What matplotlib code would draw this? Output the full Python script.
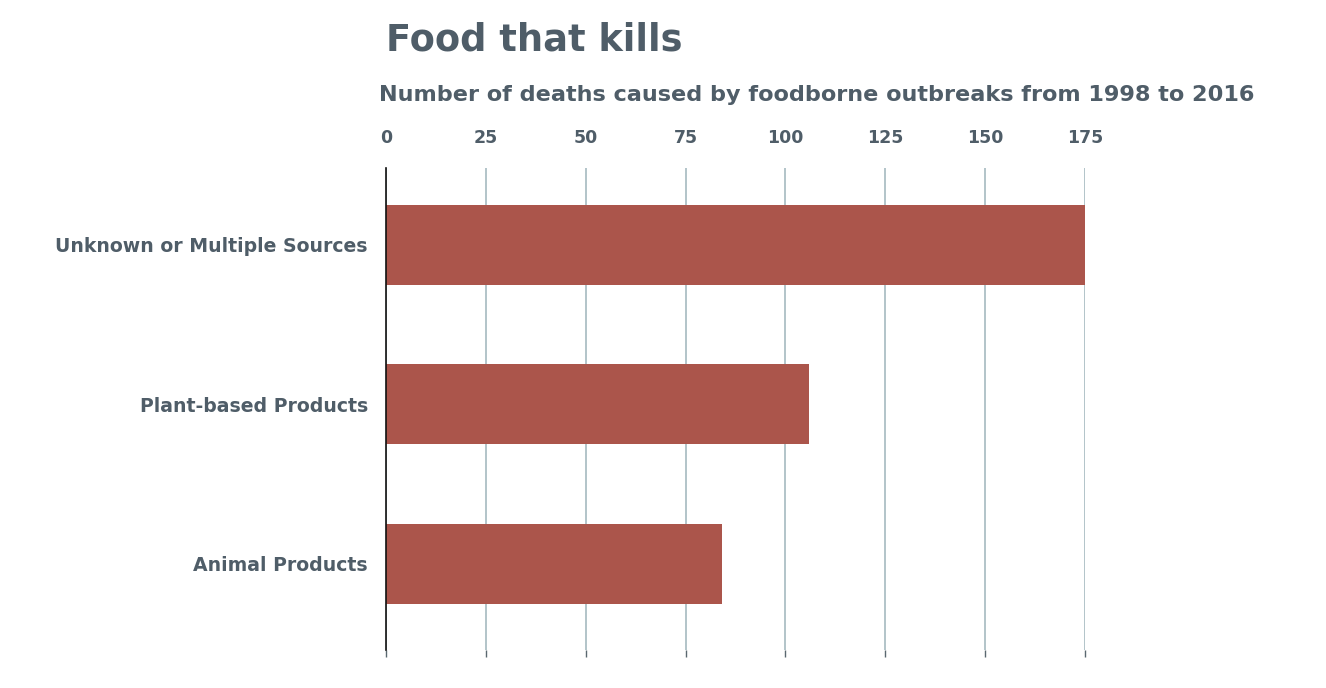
import matplotlib
matplotlib.use("Agg")
import matplotlib.pyplot as plt

categories = ["Unknown or Multiple Sources", "Plant-based Products", "Animal Products"]
deaths = [175, 106, 84]
ticks = [0, 25, 50, 75, 100, 125, 150, 175]

TEXT = "#4f5d68"
BAR = "#ab554b"
GRID = "#a6bac0"

fig = plt.figure(figsize=(13.26, 6.88), dpi=100)
ax = fig.add_axes([386 / 1326, 1 - 650 / 688, (1085 - 386) / 1326, (650 - 168) / 688])

ypos = list(range(len(categories)))
ax.barh(ypos, deaths, height=0.5, color=BAR, zorder=3)
ax.set_ylim(2.54, -0.48)
ax.set_xlim(0, 175)

ax.set_yticks(ypos)
ax.set_yticklabels(categories, fontsize=13.6, fontweight="bold", color=TEXT)
ax.tick_params(axis="y", length=0, pad=13)

ax.set_xticks(ticks)
ax.tick_params(axis="x", top=True, labeltop=True, bottom=True, labelbottom=False,
               length=5, width=1, color="#5a6870", labelsize=12.5, labelcolor=TEXT, pad=10)
for t in ax.xaxis.get_major_ticks():
    t.tick2line.set_visible(False)
    t.label2.set_fontweight("bold")

ax.grid(axis="x", color=GRID, linewidth=1.2, zorder=0)
for s in ["top", "right", "bottom"]:
    ax.spines[s].set_visible(False)
ax.spines["left"].set_color("#111111")
ax.spines["left"].set_linewidth(1.2)
ax.spines["left"].set_zorder(4)

fig.text(386 / 1326, 1 - 40 / 688, "Food that kills", fontsize=26.5, fontweight="bold",
         color=TEXT, va="center", ha="left")
fig.text(379 / 1326, 1 - 95 / 688, "Number of deaths caused by foodborne outbreaks from 1998 to 2016",
         fontsize=16.1, fontweight="bold", color=TEXT, va="center", ha="left")

fig.savefig("out.png", dpi=100)
